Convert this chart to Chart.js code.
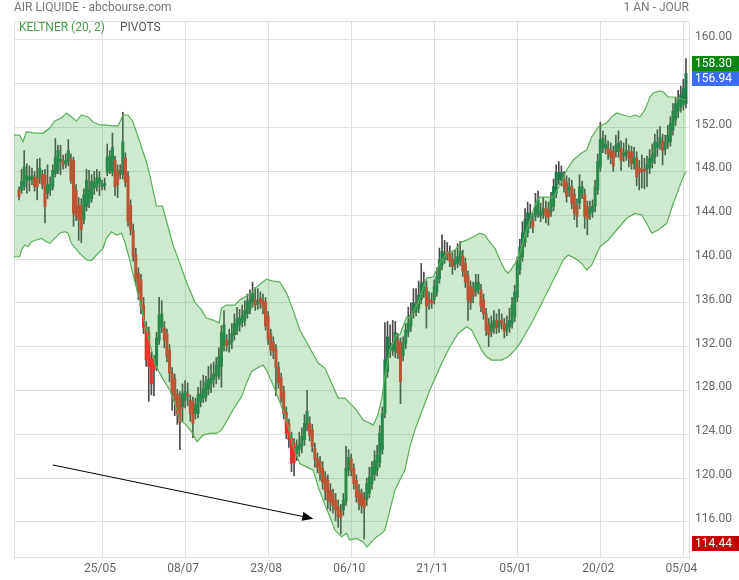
<!DOCTYPE html>
<html>
<head>
<meta charset="utf-8">
<script src="https://cdn.jsdelivr.net/npm/chart.js@4.4.1/dist/chart.umd.min.js"></script>
<style>
  html, body { margin: 0; padding: 0; background: #fff; }
  #chart { display: block; }
</style>
</head>
<body>
<canvas id="chart" width="739" height="580"></canvas>
<script>
// Daily candles, bar index 0 .. 257
const opens = [
  146.3,146.3,146.6,147.2,147.2,147.3,147.5,147.4,147.4,147.7,
  147.7,146.0,146.3,146.6,147.8,148.1,148.9,149.0,148.7,148.9,
  149.2,149.0,146.3,144.9,144.9,143.6,144.8,145.1,145.5,146.5,
  146.6,146.9,146.6,146.7,147.9,148.1,147.9,149.0,148.1,147.7,
  147.7,149.2,147.5,144.9,142.6,140.4,138.7,138.1,135.8,133.8,
  133.3,131.0,130.8,130.2,132.6,133.8,133.7,133.2,131.7,129.6,
  129.1,127.7,127.4,126.5,127.1,127.7,127.1,127.0,125.9,125.9,
  127.0,127.3,127.4,128.1,128.6,129.0,129.3,129.3,130.2,132.1,
  132.6,132.2,132.4,133.1,133.5,134.0,134.2,134.4,135.0,135.4,
  136.0,136.3,135.9,136.4,136.2,136.1,134.8,133.2,132.4,131.8,
  130.1,129.2,127.9,126.0,125.0,123.7,123.2,122.2,122.6,122.9,
  123.5,124.7,125.0,124.4,122.7,121.8,121.5,120.9,120.1,119.8,
  118.9,118.6,118.0,117.4,117.0,117.1,117.9,120.7,121.8,120.9,
  119.8,118.9,118.6,118.2,118.0,118.6,119.5,120.3,120.7,121.4,
  122.6,125.9,129.7,131.6,131.7,131.5,132.6,132.4,131.2,132.3,
  133.3,133.9,135.1,135.2,135.5,136.3,137.0,137.4,136.3,136.2,
  136.3,137.0,138.2,139.4,140.0,140.7,140.5,140.0,139.5,139.6,
  139.8,140.3,139.6,138.5,137.5,137.3,137.0,137.2,137.2,136.3,
  135.0,134.1,133.4,133.7,134.4,133.8,134.4,134.1,133.5,133.8,
  134.1,134.7,136.5,139.0,140.2,141.5,142.4,143.3,143.5,143.9,
  144.2,143.9,144.2,144.6,144.5,144.3,144.8,146.0,147.3,147.2,
  147.3,147.0,146.2,146.6,145.9,144.9,145.1,146.0,145.9,144.8,
  144.1,144.3,144.8,146.3,148.4,150.2,150.1,150.1,149.9,149.8,
  149.8,149.8,150.1,149.4,149.5,149.8,149.8,148.7,149.2,148.3,
  148.2,148.2,148.2,148.3,148.8,149.3,150.2,150.5,150.8,150.0,
  150.6,150.7,151.8,152.7,153.5,153.9,154.1,154.2
];
const highs = [
  146.6,148.2,149.9,148.7,148.5,148.3,148.0,149.1,149.2,148.1,
  148.2,148.6,147.5,148.6,151.0,150.4,150.4,149.5,149.6,150.9,
  149.6,149.3,146.8,145.6,145.5,146.4,148.2,148.1,147.7,148.0,
  148.2,148.0,147.2,147.4,150.5,149.9,151.5,149.4,148.6,148.6,
  153.4,149.7,148.0,145.4,143.2,141.0,139.2,138.6,136.5,134.3,
  133.8,131.5,131.2,133.3,136.5,136.2,134.3,133.6,132.2,130.1,
  129.5,128.1,127.9,128.6,128.9,128.7,127.6,127.4,127.3,128.3,
  128.9,129.4,129.3,130.2,130.4,130.6,131.0,131.9,133.9,135.3,
  133.1,133.6,134.1,135.0,135.6,135.4,135.8,136.2,136.8,137.2,
  137.9,137.4,137.3,137.0,136.8,136.5,135.2,133.6,132.9,132.2,
  130.6,129.6,128.4,126.5,125.4,124.2,123.6,123.5,124.2,124.6,
  125.8,128.0,125.6,124.9,123.2,122.3,122.0,121.5,120.6,120.3,
  119.5,119.0,118.6,118.0,117.6,118.6,122.9,122.6,122.2,121.3,
  120.3,119.4,119.0,118.7,120.0,121.0,121.5,122.5,123.0,124.8,
  126.5,134.2,134.3,134.0,134.4,134.3,133.2,132.8,132.9,134.1,
  135.6,136.0,137.3,137.3,138.0,139.6,138.8,138.0,137.0,136.9,
  138.1,139.2,141.0,142.2,141.7,141.5,141.2,140.6,140.8,141.4,
  141.6,140.8,140.1,138.9,138.0,137.9,138.6,138.6,137.7,136.8,
  135.5,134.6,134.8,135.3,135.0,135.4,135.0,134.6,134.8,135.5,
  136.5,137.6,140.2,141.8,143.4,144.6,145.2,145.0,144.2,146.0,
  146.2,145.1,145.6,145.3,145.2,146.1,147.3,148.6,148.9,148.5,
  148.0,147.6,147.4,147.2,146.4,145.5,147.7,147.1,146.4,145.3,
  145.3,145.4,147.2,149.6,152.5,151.7,151.3,150.8,150.6,150.3,
  151.3,151.7,150.8,150.6,151.0,150.4,150.3,150.2,149.8,149.0,
  149.5,149.2,149.4,150.0,150.5,151.4,151.8,152.1,151.4,151.3,
  152.2,153.0,154.2,154.8,155.4,155.8,156.4,158.3
];
const lows = [
  145.4,146.0,146.3,146.0,146.2,146.8,146.2,145.4,146.9,146.4,
  143.3,145.5,145.8,146.3,147.5,147.8,147.7,148.2,148.3,148.5,
  146.9,143.0,143.5,141.7,141.5,143.2,144.4,144.7,145.2,145.9,
  146.2,145.8,146.3,146.3,147.6,147.8,147.6,145.8,145.6,147.3,
  147.3,146.6,143.0,142.2,139.8,137.6,136.3,135.0,133.2,130.2,
  127.0,127.6,127.5,129.8,132.2,133.3,131.9,130.6,128.8,126.2,
  125.7,124.9,122.6,125.2,126.4,126.6,125.2,123.7,125.4,125.5,
  126.5,126.9,127.0,127.6,127.8,128.3,128.6,129.0,128.3,131.6,
  131.6,131.5,131.8,132.6,133.1,133.4,133.8,133.9,134.6,135.0,
  135.6,135.3,135.4,135.5,135.0,133.5,132.2,131.2,130.9,127.5,
  128.2,126.9,125.4,123.6,122.8,120.6,120.2,121.6,122.0,122.3,
  123.0,124.3,123.4,122.4,121.0,120.5,119.8,119.0,118.0,117.2,
  117.0,116.8,116.1,115.5,114.9,116.6,117.5,120.2,120.2,119.0,
  117.8,117.1,116.8,114.44,117.5,118.2,119.0,119.8,120.2,121.0,
  122.2,125.5,129.2,131.0,131.2,131.0,130.9,126.8,130.7,131.8,
  132.9,133.4,134.6,134.8,135.1,135.9,136.5,133.7,135.4,135.5,
  135.9,136.6,137.8,139.0,139.6,139.9,139.3,138.6,139.0,139.2,
  139.4,138.4,137.4,134.4,135.4,136.0,136.6,136.8,135.2,134.5,
  133.0,132.0,132.9,133.2,133.2,133.3,133.6,132.8,133.0,133.3,
  133.7,134.3,136.1,138.6,139.8,141.1,142.0,142.8,142.4,143.5,
  143.8,143.4,143.7,143.3,143.1,143.9,144.4,145.6,146.8,146.7,
  146.1,145.2,145.7,144.6,143.6,142.9,144.6,145.5,142.8,142.2,
  143.6,143.8,144.3,145.9,148.0,149.7,149.6,149.1,148.7,148.0,
  149.3,149.3,148.1,148.9,149.0,148.4,148.2,148.2,146.7,146.3,
  146.5,146.4,146.6,147.8,148.3,148.7,149.4,150.0,148.6,149.5,
  150.1,150.3,151.3,152.2,152.9,153.4,153.6,153.8
];
const closes = [
  145.7,147.1,148.4,147.6,147.5,147.6,146.6,146.6,148.3,146.8,
  144.8,146.8,146.8,148.1,149.3,149.9,149.1,148.6,149.0,149.9,
  147.2,144.2,143.9,143.6,142.7,145.9,147.2,146.3,147.1,147.0,
  147.4,147.4,146.8,146.9,149.3,149.4,150.2,146.6,146.8,148.1,
  150.7,147.0,143.4,142.7,140.2,138.2,136.9,135.7,133.8,130.8,
  130.2,128.6,129.9,132.8,134.9,135.0,132.6,131.1,129.6,127.8,
  127.1,125.9,125.1,127.7,127.9,127.5,125.9,125.0,126.7,127.6,
  127.7,128.2,128.8,129.0,129.1,129.5,130.3,131.1,133.3,134.0,
  132.1,132.5,133.2,134.1,134.6,134.6,134.8,135.3,136.1,136.3,
  136.9,135.8,136.2,136.0,135.6,133.9,132.7,131.7,131.6,130.1,
  128.7,127.3,125.9,124.1,123.5,121.4,121.4,122.9,123.1,123.8,
  125.0,126.1,123.9,122.9,121.7,121.0,120.4,119.6,118.8,118.0,
  117.8,117.5,117.1,116.5,116.4,118.0,120.9,121.9,120.7,119.5,
  118.3,117.7,117.5,117.3,119.5,120.1,121.0,121.6,122.1,124.1,
  125.9,130.8,132.9,132.1,132.3,133.3,131.4,128.8,132.3,133.5,
  134.2,134.9,136.0,135.6,136.7,137.8,137.9,135.7,136.0,136.0,
  137.5,138.4,139.9,140.7,140.5,140.4,139.8,139.3,139.9,140.2,
  140.7,138.9,137.9,136.3,136.0,136.6,137.8,137.9,135.7,135.0,
  133.5,133.1,134.1,134.4,133.7,134.3,134.1,133.4,134.0,134.4,
  135.8,137.0,139.6,141.1,142.4,143.6,144.2,144.2,142.9,144.9,
  145.4,144.3,144.6,143.9,143.8,145.4,146.6,147.9,147.9,147.9,
  146.6,145.7,146.6,145.1,144.2,143.9,146.6,146.6,143.9,143.7,
  144.6,144.8,146.6,148.9,150.9,151.0,150.5,149.6,149.3,148.5,
  150.4,150.6,149.0,149.7,149.9,149.2,148.7,149.3,147.5,147.9,
  148.0,148.0,148.6,149.2,149.5,150.7,150.6,151.1,149.9,150.6,
  151.3,152.4,153.5,154.2,154.5,155.0,155.6,156.94
];

// Keltner (20, 2) bands: [bar index, value]
const upper_band = [
  [-1.93,151.32],[0.27,151.32],[1.54,150.71],[2.85,151.63],[5.40,151.51],[9.25,151.48],
  [11.84,151.96],[13.76,152.60],[16.35,152.88],[18.27,153.33],[20.20,152.97],[22.13,152.60],
  [24.06,153.15],[26.60,152.97],[28.53,152.51],[31.11,152.24],[33.04,152.24],[36.24,152.15],
  [38.17,152.15],[40.09,153.15],[42.02,153.15],[43.95,152.51],[46.53,150.68],[49.11,148.86],
  [50.39,147.67],[52.97,144.84],[55.28,144.84],[56.82,143.47],[59.37,141.28],[61.95,139.63],
  [64.53,137.90],[67.73,136.07],[70.32,135.34],[72.24,134.61],[74.79,134.43],[77.10,134.16],
  [78.03,135.53],[79.95,135.80],[83.15,135.80],[85.08,136.26],[87.01,136.53],[89.59,136.89],
  [91.52,137.44],[93.45,137.81],[95.37,138.17],[97.92,137.99],[100.50,137.90],[103.08,136.89],
  [105.63,135.34],[108.21,133.52],[112.07,131.87],[115.27,130.50],[117.85,130.05],[120.43,128.68],
  [122.98,127.31],[125.56,127.31],[127.49,126.85],[130.07,126.21],[132.61,125.30],[135.20,125.02],
  [136.47,124.84],[138.28,125.75],[139.82,127.31],[140.98,129.41],[142.91,131.69],[145.22,133.06],
  [146.76,133.06],[149.35,134.70],[150.62,134.61],[153.82,136.07],[157.05,138.26],[159.60,138.36],
  [162.18,139.63],[164.77,140.55],[167.96,140.82],[170.55,141.55],[172.47,141.73],[175.02,142.01],
  [177.60,142.37],[179.53,142.19],[180.80,141.73],[183.38,141.01],[185.31,139.91],[187.24,139.00],
  [188.51,138.72],[191.09,139.54],[193.02,140.55],[194.95,142.19],[196.88,143.56],[198.81,144.93],
  [200.73,145.66],[205.86,145.66],[209.10,147.03],[211.03,148.13],[213.57,149.04],[216.81,149.68],
  [218.74,149.95],[220.66,151.14],[223.21,152.05],[226.45,152.42],[228.37,152.97],[230.30,153.33],
  [232.85,153.15],[235.43,152.97],[237.36,153.15],[239.28,152.97],[241.21,153.61],[243.14,154.79],
  [244.41,155.16],[247.00,155.34],[248.27,155.25],[250.19,154.79],[252.12,154.79],[254.05,154.70],
  [257.00,154.52]
];
const lower_band = [
  [-1.93,140.21],[0.27,140.21],[0.93,140.82],[2.20,141.28],[3.47,141.12],[4.78,141.58],
  [6.71,141.74],[8.64,141.89],[10.56,141.58],[11.84,141.43],[13.76,141.89],[15.69,142.35],
  [17.62,142.49],[18.89,142.35],[20.20,141.43],[23.40,140.52],[25.98,139.91],[27.91,139.85],
  [29.84,140.37],[32.38,140.98],[33.69,141.89],[35.62,142.49],[37.55,142.19],[39.48,142.35],
  [40.75,141.58],[42.68,139.91],[44.60,137.93],[46.53,136.26],[48.46,134.13],[50.39,132.30],
  [52.31,130.47],[54.24,129.56],[56.17,128.79],[58.10,128.04],[60.02,126.82],[61.95,125.30],
  [64.53,124.84],[66.46,124.23],[68.62,123.32],[70.93,123.93],[73.52,124.08],[76.10,124.08],
  [78.03,124.38],[80.57,125.45],[83.15,126.51],[85.74,127.42],[87.66,128.65],[89.59,129.71],
  [91.52,130.02],[94.06,130.32],[95.37,129.86],[97.92,128.49],[100.50,126.94],[103.08,125.30],
  [105.63,122.86],[108.21,121.34],[110.79,121.03],[113.34,120.73],[115.27,119.21],[117.19,117.99],
  [119.78,116.47],[121.70,115.25],[124.29,114.64],[126.21,114.95],[127.49,114.34],[130.07,114.49],
  [132.61,114.18],[134.16,113.73],[135.85,114.18],[137.78,114.64],[139.71,114.95],[140.98,115.25],
  [142.91,117.08],[144.84,118.90],[146.76,119.82],[148.69,120.73],[150.62,122.86],[152.55,124.38],
  [154.47,125.60],[158.33,128.04],[162.84,130.47],[166.04,131.99],[169.24,133.21],[172.47,133.82],
  [174.40,133.52],[176.33,132.60],[178.26,131.69],[180.18,131.08],[182.11,130.78],[184.04,130.78],
  [185.97,130.78],[188.51,131.08],[191.09,131.69],[193.02,132.30],[195.60,133.36],[198.15,134.43],
  [200.73,135.64],[203.32,136.87],[205.86,138.08],[209.72,139.91],[211.64,140.37],[214.22,140.06],
  [216.81,139.61],[218.74,139.00],[220.66,139.45],[223.86,141.12],[227.06,141.74],[230.30,142.65],
  [234.15,143.72],[237.36,144.17],[239.94,144.02],[241.87,143.26],[243.79,142.35],[246.34,142.65],
  [249.58,143.26],[252.12,145.09],[254.05,146.30],[255.98,147.52],[257.00,147.97]
];

// axis ticks
const x_tick_idx    = [32, 64, 96, 128, 160, 192, 224, 256];
const x_tick_labels = ['25/05', '08/07', '23/08', '06/10', '21/11', '05/01', '20/02', '05/04'];
const y_ticks       = [116, 120, 124, 128, 132, 136, 140, 144, 148, 152, 156, 160];

// price tags on the right axis: period high, last close, period low
const tag_values = [158.30, 156.94, 114.44];
const tag_colors = ['#0b870b', '#3b6ef3', '#c20000'];

// hand drawn arrow: [bar index, value]
const arrow_from = [13.0, 121.2];
const arrow_to   = [113.4, 116.3];

const GRID = '#dedede';
const UP   = '#1e7c4a';
const DOWN = '#e8322a';

Chart.defaults.font.family = 'Roboto';
Chart.defaults.font.size   = 12;

const wicks  = closes.map((c, i) => ({ x: i, y: [lows[i], highs[i]] }));
const bodies = closes.map((c, i) => ({ x: i, y: [Math.min(opens[i], c), Math.max(opens[i], c)] }));
const body_colors = closes.map((c, i) => c >= opens[i] ? UP : DOWN);

/******************* PLUGINS **********************/

const frame_plugin = {
	id: 'frame',
	beforeDatasetsDraw(chart) {
		const { ctx, chartArea: a } = chart;
		ctx.save();
		ctx.strokeStyle = GRID;
		ctx.lineWidth = 1;
		ctx.strokeRect(Math.round(a.left) + 0.5, Math.round(a.top) + 0.5,
			Math.round(a.right - a.left) - 1, Math.round(a.bottom - a.top));
		ctx.restore();
	}
};

const texts_plugin = {
	id: 'texts',
	afterDraw(chart) {
		const { ctx, chartArea: a } = chart;
		ctx.save();
		ctx.font = '12px Roboto';
		ctx.textBaseline = 'middle';

		ctx.fillStyle = '#777';
		ctx.textAlign = 'left';
		ctx.fillText('AIR LIQUIDE - abcbourse.com', a.left, 8);
		ctx.textAlign = 'right';
		ctx.fillText('1 AN - JOUR', a.right - 1, 8);

		ctx.textAlign = 'left';
		ctx.fillStyle = '#43a047';
		ctx.fillText('KELTNER (20, 2)', a.left + 5, 28);
		ctx.fillStyle = '#555';
		ctx.fillText('PIVOTS', a.left + 106, 28);
		ctx.restore();
	}
};

const arrow_plugin = {
	id: 'arrow',
	afterDatasetsDraw(chart) {
		const { ctx, scales: { x, y } } = chart;
		const x0 = x.getPixelForValue(arrow_from[0]), y0 = y.getPixelForValue(arrow_from[1]);
		const x1 = x.getPixelForValue(arrow_to[0]),   y1 = y.getPixelForValue(arrow_to[1]);
		const ang = Math.atan2(y1 - y0, x1 - x0);
		const len = 11, half = 4.5;
		const bx = x1 - len * Math.cos(ang), by = y1 - len * Math.sin(ang);

		ctx.save();
		ctx.strokeStyle = '#000';
		ctx.fillStyle = '#000';
		ctx.lineWidth = 1;
		ctx.beginPath();
		ctx.moveTo(x0, y0);
		ctx.lineTo(bx, by);
		ctx.stroke();
		ctx.beginPath();
		ctx.moveTo(x1, y1);
		ctx.lineTo(bx + half * Math.sin(ang), by - half * Math.cos(ang));
		ctx.lineTo(bx - half * Math.sin(ang), by + half * Math.cos(ang));
		ctx.closePath();
		ctx.fill();
		ctx.restore();
	}
};

const tags_plugin = {
	id: 'tags',
	afterDraw(chart) {
		const { ctx, chartArea: a, scales: { y } } = chart;
		const h = 15;
		let last_bottom = -Infinity;
		ctx.save();
		ctx.font = '12px Roboto';
		ctx.textBaseline = 'middle';
		ctx.textAlign = 'left';
		tag_values.forEach((v, i) => {
			let top = Math.round(y.getPixelForValue(v)) - 3;
			if (top < last_bottom) top = last_bottom;
			ctx.fillStyle = tag_colors[i];
			ctx.fillRect(a.right + 2, top, chart.width - a.right - 2, h);
			ctx.fillStyle = '#fff';
			ctx.fillText(v.toFixed(2), a.right + 5, top + h / 2 + 0.5);
			last_bottom = top + h;
		});
		ctx.restore();
	}
};

/******************* CHART **********************/

new Chart(document.getElementById('chart'), {
	type: 'bar',
	data: {
		datasets: [
			{
				type: 'line',
				data: upper_band.map(p => ({ x: p[0], y: p[1] })),
				borderColor: '#5aaf5a',
				borderWidth: 1.2,
				backgroundColor: 'rgba(76, 175, 80, 0.28)',
				fill: '+1',
				pointRadius: 0,
				tension: 0,
				order: 0
			},
			{
				type: 'line',
				data: lower_band.map(p => ({ x: p[0], y: p[1] })),
				borderColor: '#5aaf5a',
				borderWidth: 1.2,
				fill: false,
				pointRadius: 0,
				tension: 0,
				order: -1
			},
			{
				data: bodies,
				backgroundColor: body_colors,
				barThickness: 2.4,
				minBarLength: 1,
				grouped: false,
				order: 1
			},
			{
				data: wicks,
				backgroundColor: '#4a4a4a',
				barThickness: 1,
				grouped: false,
				order: 2
			}
		]
	},
	options: {
		responsive: false,
		animation: false,
		layout: { padding: { left: 14, top: 21, right: 0, bottom: 0 } },
		plugins: {
			legend: { display: false },
			tooltip: { enabled: false }
		},
		scales: {
			x: {
				type: 'linear',
				min: -1.93,
				max: 258.56,
				offset: false,
				grid: { color: GRID, drawTicks: false, offset: false },
				border: { display: false },
				afterBuildTicks: (axis) => { axis.ticks = x_tick_idx.map(v => ({ value: v })); },
				afterFit: (axis) => { axis.height = 23; },
				ticks: {
					color: '#666',
					padding: 5,
					labelOffset: -2,
					maxRotation: 0,
					autoSkip: false,
					callback: (v) => x_tick_labels[x_tick_idx.indexOf(v)]
				}
			},
			y: {
				position: 'right',
				min: 112.8,
				max: 161.73,
				grid: { color: GRID, drawTicks: false },
				border: { display: false },
				afterBuildTicks: (axis) => { axis.ticks = y_ticks.map(v => ({ value: v })); },
				afterFit: (axis) => { axis.width = 49; },
				ticks: {
					color: '#666',
					padding: 5,
					labelOffset: -3,
					callback: (v) => Number(v).toFixed(2)
				}
			}
		}
	},
	plugins: [frame_plugin, arrow_plugin, texts_plugin, tags_plugin]
});
</script>
</body>
</html>
